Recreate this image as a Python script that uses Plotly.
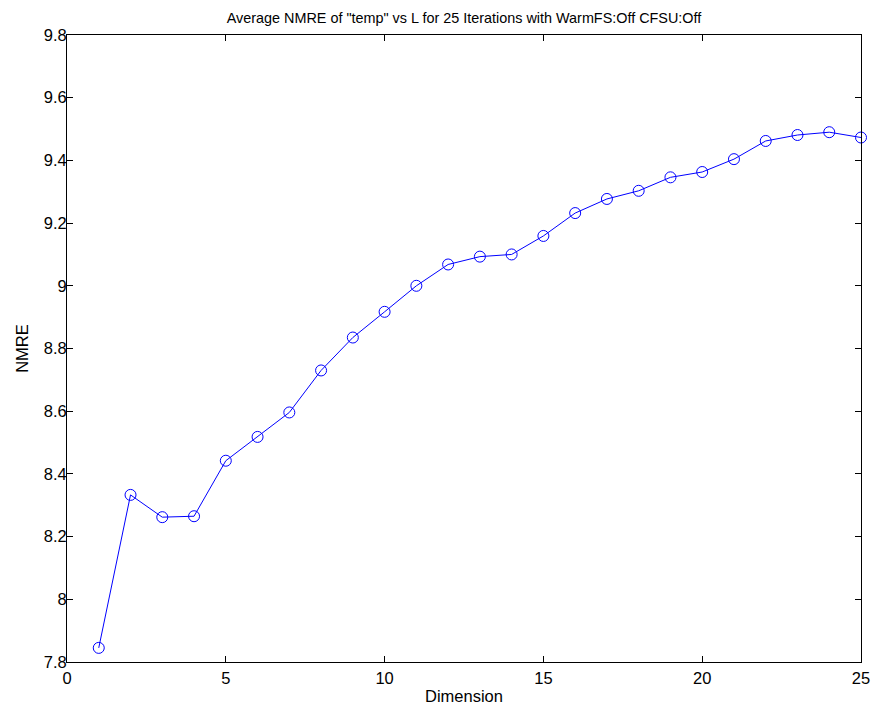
import plotly.graph_objects as go

# Average NMRE per embedding dimension
dimension = list(range(1, 26))
nmre = [7.845, 8.333, 8.262, 8.265, 8.442, 8.518, 8.596, 8.730, 8.835, 8.917,
        9.000, 9.068, 9.093, 9.100, 9.159, 9.232, 9.277, 9.303, 9.346, 9.363,
        9.404, 9.462, 9.481, 9.490, 9.473]

x_ticks = [0, 5, 10, 15, 20, 25]
y_ticks = [7.8, 8.0, 8.2, 8.4, 8.6, 8.8, 9.0, 9.2, 9.4, 9.6, 9.8]
y_tick_text = ["7.8", "8", "8.2", "8.4", "8.6", "8.8", "9", "9.2", "9.4", "9.6", "9.8"]

font_family = "Liberation Sans, Arial, Helvetica, sans-serif"
label_size = 16.5

fig = go.Figure()
fig.add_trace(go.Scatter(
    x=dimension, y=nmre,
    mode="lines+markers",
    line=dict(color="#0000ff", width=1),
    marker=dict(symbol="circle-open", size=11, color="#0000ff",
                line=dict(width=1, color="#0000ff")),
    cliponaxis=False,
    showlegend=False,
))

axis_common = dict(
    showline=True, linecolor="black", linewidth=1, mirror="ticks",
    ticks="inside", ticklen=6, tickcolor="black", tickwidth=1,
    showgrid=False, zeroline=False, automargin=False,
    tickfont=dict(family=font_family, size=label_size, color="black"),
)

fig.update_layout(
    width=877, height=711,
    margin=dict(l=67, r=16, t=35, b=49),
    paper_bgcolor="white", plot_bgcolor="white",
    font=dict(family=font_family, color="black"),
    title=dict(
        text='Average NMRE of "temp" vs L for 25 Iterations with WarmFS:Off CFSU:Off',
        x=(67 + 861) / 2 / 877, xanchor="center",
        y=1 - 18 / 711, yanchor="middle",
        font=dict(family=font_family, size=14.4, color="black"),
    ),
    xaxis=dict(
        range=[0, 25], tickvals=x_ticks,
        ticklabelstandoff=1,
        title=dict(text="Dimension", standoff=4,
                   font=dict(family=font_family, size=label_size, color="black")),
        **axis_common,
    ),
    yaxis=dict(
        range=[7.8, 9.8], tickvals=y_ticks, ticktext=y_tick_text,
        ticklabelstandoff=-4,
        title=dict(text="NMRE", standoff=10,
                   font=dict(family=font_family, size=label_size, color="black")),
        **axis_common,
    ),
)

fig.write_html("out.html")
